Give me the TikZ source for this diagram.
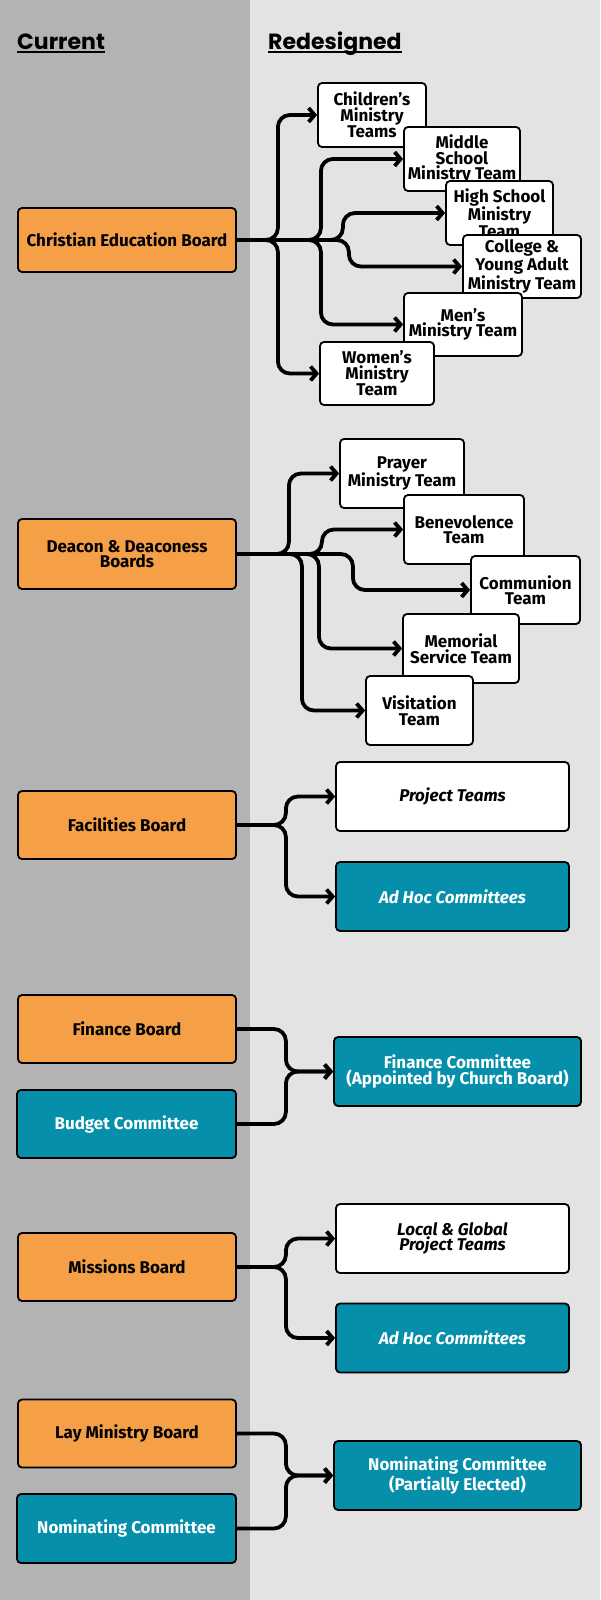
\documentclass[tikz,border=0pt]{standalone}
\usepackage{fontspec}
\setmainfont{Fira Sans}
\newfontfamily\headfont{Poppins}
\usetikzlibrary{arrows.meta}
\definecolor{boardorange}{HTML}{F5A046}
\definecolor{cmteteal}{HTML}{068FAB}
\definecolor{leftgray}{HTML}{B3B3B3}
\definecolor{rightgray}{HTML}{E3E3E3}
\newcommand{\headline}[1]{\setbox0=\hbox{#1}\rlap{\rule[-3.3pt]{\wd0}{2pt}}\box0}
\tikzset{
  box/.style={draw=black, line width=1.8pt, rounded corners=4pt, align=center, inner sep=0pt,
    font=\fontsize{17}{15.5}\selectfont\bfseries},
  board/.style={box, fill=boardorange, minimum width=218pt, minimum height=68pt},
  team/.style={box, fill=white},
  cmte/.style={box, fill=cmteteal, text=white},
  link/.style={line width=3.8pt, rounded corners=12pt, -{Straight Barb[length=6pt,width=14pt]}},
  heading/.style={inner sep=0pt, anchor=base west, font=\headfont\fontsize{22}{22}\selectfont\bfseries}
}

\begin{document}
\begin{tikzpicture}[x=1pt,y=-1pt]
\useasboundingbox (0,0) rectangle (600,1600);
\fill[leftgray] (0,0) rectangle (250,1600);
\fill[rightgray] (250,0) rectangle (600,1600);
\node[heading] (cur) at (17,50) {\headline{Current}};
\node[heading] (red) at (268,50) {\headline{Redesigned}};

% christian education
\node[board, minimum height=64pt] (ceb) at (127,240) {Christian Education Board};
\node[team, minimum width=108pt, minimum height=64pt] (kids) at (372,115) {Children’s\\Ministry\\Teams};
\node[team, minimum width=116pt, minimum height=64pt] (middle) at (462,159) {Middle\\School\\Ministry Team};
\node[team, minimum width=107pt, minimum height=64pt] (high) at (499.5,213) {High School\\Ministry\\Team};
\node[team, minimum width=118pt, minimum height=63pt] (college) at (522,266.5) {College \&\\Young Adult\\Ministry Team};
\node[team, minimum width=118pt, minimum height=63pt] (men) at (463,324.5) {Men’s\\Ministry Team};
\node[team, minimum width=114pt, minimum height=63pt] (women) at (377,373.5) {Women’s\\Ministry\\Team};
\draw[link] (ceb.east) -- ++(41,0) |- (kids.west);
\draw[link] (ceb.east) -- ++(84,0) |- (middle.west);
\draw[link] (ceb.east) -- ++(106,0) |- (high.west);
\draw[link] (ceb.east) -- ++(112,0) |- (college.west);
\draw[link] (ceb.east) -- ++(84,0) |- (men.west);
\draw[link] (ceb.east) -- ++(41,0) |- (women.west);

% deacons
\node[board, minimum height=70pt] (deacon) at (127,554) {Deacon \& Deaconess\\Boards};
\node[team, minimum width=124pt, minimum height=69pt] (prayer) at (402,473.5) {Prayer\\Ministry Team};
\node[team, minimum width=120pt, minimum height=69pt] (benev) at (464,529.5) {Benevolence\\Team};
\node[team, minimum width=109pt, minimum height=68pt] (commun) at (525.5,590) {Communion\\Team};
\node[team, minimum width=116pt, minimum height=69pt] (memorial) at (461,648.5) {Memorial\\Service Team};
\node[team, minimum width=107pt, minimum height=69pt] (visit) at (419.5,710.5) {Visitation\\Team};
\draw[link] (deacon.east) -- ++(52,0) |- (prayer.west);
\draw[link] (deacon.east) -- ++(85,0) |- (benev.west);
\draw[link] (deacon.east) -- ++(116,0) |- (commun.west);
\draw[link] (deacon.east) -- ++(82,0) |- (memorial.west);
\draw[link] (deacon.east) -- ++(65,0) |- (visit.west);

% facilities
\node[board] (facil) at (127,825) {Facilities Board};
\node[team, minimum width=233pt, minimum height=69pt] (projects) at (452.5,796.5) {\itshape Project Teams};
\node[cmte, minimum width=233pt, minimum height=69pt] (adhocf) at (452.5,896.5) {\itshape Ad Hoc Committees};
\draw[link] (facil.east) -- ++(49,0) |- (projects.west);
\draw[link] (facil.east) -- ++(49,0) |- (adhocf.west);

% finance
\node[board] (finb) at (127,1029) {Finance Board};
\node[cmte, minimum width=219pt, minimum height=68pt] (budget) at (126.5,1124) {Budget Committee};
\node[cmte, minimum width=247pt, minimum height=69pt] (fincom) at (457.5,1071.5) {Finance Committee\\(Appointed by Church Board)};
\draw[link] (finb.east) -- ++(49,0) |- (fincom.west);
\draw[link] (budget.east) -- ++(49,0) |- (fincom.west);

% missions
\node[board] (missions) at (127,1267) {Missions Board};
\node[team, minimum width=233pt, minimum height=69pt] (localglobal) at (452.5,1238.5) {\itshape Local \& Global\\\itshape Project Teams};
\node[cmte, minimum width=233pt, minimum height=69pt] (adhocm) at (452.5,1338) {\itshape Ad Hoc Committees};
\draw[link] (missions.east) -- ++(49,0) |- (localglobal.west);
\draw[link] (missions.east) -- ++(49,0) |- (adhocm.west);

% lay ministry
\node[board] (lay) at (127,1433.5) {Lay Ministry Board};
\node[cmte, minimum width=219pt, minimum height=69pt] (nomin) at (126.5,1528.5) {Nominating Committee};
\node[cmte, minimum width=247pt, minimum height=69pt] (nomcom) at (457.5,1475.5) {Nominating Committee\\(Partially Elected)};
\draw[link] (lay.east) -- ++(49,0) |- (nomcom.west);
\draw[link] (nomin.east) -- ++(49,0) |- (nomcom.west);
\end{tikzpicture}
\end{document}
